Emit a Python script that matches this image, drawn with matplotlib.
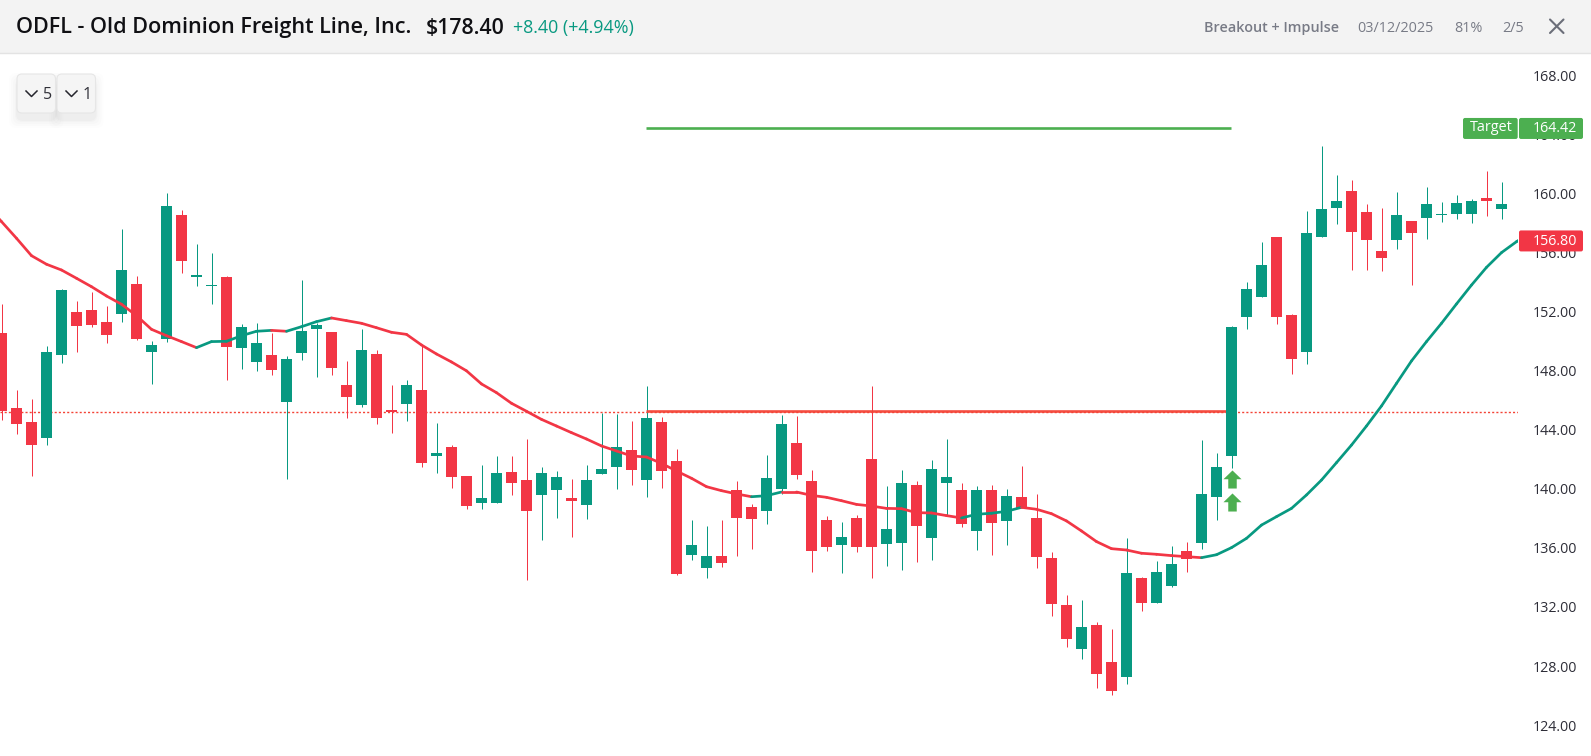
import matplotlib
matplotlib.use("Agg")
import matplotlib.pyplot as plt
import numpy as np
from matplotlib.patches import FancyBboxPatch, Rectangle
from matplotlib.path import Path

W, H = 1591, 756
FONT = ["Open Sans", "Noto Sans", "DejaVu Sans"]
plt.rcParams["font.family"] = FONT

UP = "#089981"
DOWN = "#F23645"
TARGET = "#4CAF50"
LEVEL = "#F44336"
TICK = "#2E2E38"
MUTED = "#787B86"

# prices, one entry per candle
highs = [152.53,146.70,146.09,149.68,153.54,152.73,153.34,152.39,157.61,154.42,150.02,160.05,158.90,156.59,155.98,154.42,151.17,151.24,150.56,149.00,
         154.15,151.24,150.63,148.67,150.83,149.41,147.04,147.38,149.75,144.47,142.97,140.87,141.62,142.23,142.23,143.38,141.48,141.21,140.67,141.62,
         145.17,145.08,144.60,146.97,144.87,142.70,137.89,137.49,137.89,140.54,138.98,142.30,145.01,144.94,141.28,138.16,137.76,138.23,146.97,140.20,
         141.28,140.54,141.96,143.38,140.40,140.20,140.27,139.99,141.55,139.66,135.73,132.81,132.47,130.98,130.51,136.67,134.03,135.12,136.13,136.40,
         143.31,142.43,151.04,154.02,156.73,157.07,151.85,158.83,163.23,161.27,160.93,159.30,159.03,160.11,158.15,160.45,159.44,159.91,159.64,161.54,160.79]
lows = [144.67,143.72,140.87,142.97,148.53,149.28,150.97,149.89,151.31,150.09,147.11,149.95,154.63,153.75,152.53,147.38,148.12,147.99,147.72,140.67,
        148.73,147.58,147.72,144.80,145.55,144.40,143.79,144.60,141.48,141.08,140.06,138.64,138.64,139.05,139.59,133.83,136.54,138.03,136.74,137.96,
        141.01,139.99,140.27,139.45,140.06,134.17,135.18,133.96,134.71,135.45,135.93,137.62,139.66,140.67,134.37,135.79,134.30,135.73,133.96,134.78,
        134.51,135.05,135.18,138.23,137.42,135.86,135.52,136.20,138.68,134.64,131.39,129.29,128.48,126.51,126.04,126.78,131.73,132.27,133.35,134.37,
        135.93,137.89,141.42,150.83,153.00,151.17,147.78,148.46,157.07,157.95,154.83,154.83,154.76,156.25,153.81,156.93,158.08,158.29,158.02,158.49,158.29]
opens = [150.56,145.48,144.53,143.45,149.07,151.99,152.12,151.31,151.85,153.88,149.28,150.16,158.56,154.36,153.75,154.36,149.55,148.60,149.07,145.89,
         149.21,150.83,150.63,147.04,145.69,149.14,145.35,145.75,146.70,142.23,142.84,140.87,139.05,139.05,141.15,140.60,139.59,139.93,139.38,138.91,
         141.01,141.48,142.64,140.60,144.53,141.89,135.52,134.64,135.45,139.93,138.77,138.50,139.99,143.11,140.54,137.89,136.20,138.03,142.03,136.27,
         136.33,140.27,136.67,140.40,139.93,137.15,139.93,137.83,139.45,138.03,135.32,132.13,129.15,130.78,128.27,127.26,133.96,132.27,133.42,135.79,
         136.34,139.45,142.23,151.65,153.00,157.07,151.78,149.27,157.07,159.03,160.18,158.76,156.12,156.86,158.15,158.35,158.56,158.62,158.62,159.71,158.96]
closes = [145.30,144.40,142.97,149.28,153.48,151.04,151.10,150.43,154.83,150.16,149.75,159.17,155.44,154.49,153.81,149.61,150.97,149.89,148.06,148.80,
          150.70,151.10,148.19,146.23,149.41,144.80,145.21,147.04,141.76,142.43,140.81,138.84,139.38,141.08,140.40,138.50,141.08,140.81,139.18,140.60,
          141.35,142.84,141.28,144.80,141.21,134.24,136.20,135.45,134.98,138.03,137.96,140.74,144.40,140.94,135.79,136.06,136.74,136.06,136.06,137.28,
          140.40,137.49,141.35,140.81,137.62,139.93,137.69,139.52,138.71,135.39,132.20,129.83,130.64,127.46,126.31,134.30,132.27,134.37,134.91,135.25,
          139.65,141.48,150.97,153.54,155.17,151.65,148.80,157.34,158.96,159.50,157.40,156.86,155.64,158.56,157.34,159.30,158.62,159.37,159.50,159.50,159.30]
# the average starts one bar before the first candle and runs one bar past the last
moving_avg = [159.25,158.11,156.98,155.80,155.22,154.83,154.27,153.70,153.07,152.51,151.74,150.81,150.38,149.98,149.57,149.98,150.00,150.38,150.68,150.74,150.68,
              150.99,151.33,151.58,151.40,151.22,150.92,150.61,150.47,149.75,149.14,148.60,148.00,147.11,146.52,145.80,145.26,144.71,144.26,143.81,143.38,
              142.91,142.57,142.23,142.16,141.73,141.21,140.72,140.15,139.88,139.66,139.47,139.54,139.79,139.79,139.56,139.43,139.20,138.95,138.84,138.68,
              138.66,138.39,138.37,138.19,138.03,138.28,138.35,138.48,138.75,138.62,138.32,137.83,137.15,136.43,135.95,135.86,135.64,135.57,135.48,135.41,
              135.34,135.54,136.02,136.65,137.55,138.12,138.68,139.59,140.60,141.78,142.97,144.26,145.62,147.15,148.67,149.98,151.22,152.53,153.81,155.01,156.01,156.75,157.40]

y_ticks = [168, 164, 160, 156, 152, 148, 144, 140, 136, 132, 128, 124]
breakout_level = 145.26
support_level = 145.19
target_price = 164.42
last_ma_price = 156.80
level_span = (42.95, 81.95)
signal_bar = 82
signal_prices = [140.65, 139.11]

title_text = "ODFL - Old Dominion Freight Line, Inc."
price_text = "$178.40"
change_text = "+8.40 (+4.94%)"
info_items = [("Breakout + Impulse", 1204, 600), ("03/12/2025", 1357, 400), ("81%", 1454, 400), ("2/5", 1502, 400)]
button_labels = ["5", "1"]

# layout: pixel geometry of the plot frame
TOP, RIGHT = 53, 1518
PX_PER_UNIT = 14.76
PX_160 = 193.7
def px_of(price):
    return PX_160 + (160 - price) * PX_PER_UNIT

fig = plt.figure(figsize=(W / 100, H / 100), dpi=100, facecolor="white")
ax = fig.add_axes([0, 0, RIGHT / W, 1 - TOP / H])
ax.set_xlim(-0.1, (RIGHT - 1.5) / 15)
ax.set_ylim(160 + (PX_160 - H) / PX_PER_UNIT, 160 + (PX_160 - TOP) / PX_PER_UNIT)
for s in ax.spines.values():
    s.set_visible(False)
ax.set_xticks([])
ax.yaxis.tick_right()
ax.set_yticks(y_ticks)
ax.set_yticklabels([f"{t:.2f}" for t in y_ticks])
ax.tick_params(axis="y", length=0, pad=10.6, labelsize=10.3, labelcolor=TICK)

o, c, hi, lo = map(np.array, (opens, closes, highs, lows))
idx = np.arange(len(o))
cols = np.where(c > o, UP, DOWN)
ax.vlines(idx, lo, hi, colors=cols, linewidth=0.72, zorder=2)
ax.bar(idx, np.abs(c - o), bottom=np.minimum(o, c), width=11 / 15, color=cols, linewidth=0, zorder=3)

ax.axhline(support_level, color=LEVEL, lw=1.0, ls=(0, (1.5, 1.5)), zorder=1)
ax.hlines(breakout_level, *level_span, color=LEVEL, lw=1.9, zorder=2.5, alpha=0.95)
ax.hlines(target_price, *level_span, color=TARGET, lw=1.9, zorder=2.5)

ma = np.array(moving_avg)
ma_x = np.arange(len(ma)) - 1
for i in range(len(ma) - 1):
    col = UP if ma[i + 1] > ma[i] else DOWN
    ax.plot(ma_x[i:i + 2], ma[i:i + 2], color=col, lw=1.95, zorder=4, solid_capstyle="round")

arrow = Path([(0, 1), (1, 0.03), (0.47, 0.03), (0.47, -1), (-0.47, -1), (-0.47, 0.03), (-1, 0.03), (0, 1)], closed=True)
ax.plot([signal_bar] * len(signal_prices), signal_prices, ls="none", marker=arrow, ms=13.0,
        mfc=TARGET, mec="none", zorder=5)

# overlay in pixel coordinates: header, buttons and price tags
ov = fig.add_axes([0, 0, 1, 1], facecolor="none")
ov.set_xlim(0, W)
ov.set_ylim(H, 0)
ov.axis("off")
ov.add_patch(Rectangle((0, 0), W, 53, fc="#F3F3F3", ec="none"))
ov.plot([0, W], [53, 53], color="#E3E3E3", lw=1)

ov.text(16, 28, title_text, fontsize=15.6, fontweight=600, color="#101014", va="center", ha="left")
ov.text(426, 28, price_text, fontsize=15.3, fontweight=600, color="#101014", va="center", ha="left")
ov.text(513, 28, change_text, fontsize=12.9, fontweight=500, color=UP, va="center", ha="left")
for label, x, wt in info_items:
    ov.text(x, 28, label, fontsize=10.4, fontweight=wt, color=MUTED, va="center", ha="left")
ov.plot([1550, 1563.5], [19.5, 33], color="#6B6E79", lw=1.5, solid_capstyle="round")
ov.plot([1550, 1563.5], [33, 19.5], color="#6B6E79", lw=1.5, solid_capstyle="round")

bw, bh = 38.5, 39
for bx in (17, 57):
    for grow, alpha in ((16, 0.008), (12, 0.010), (8, 0.012), (4, 0.016), (2, 0.02)):
        ov.add_patch(FancyBboxPatch((bx - grow / 2, 74 + 7 - grow / 2), bw + grow, bh + grow,
                                    boxstyle="round,pad=0,rounding_size=7", fc="black", ec="none", alpha=alpha))
for bx, lab in zip((17, 57), button_labels):
    ov.add_patch(FancyBboxPatch((bx, 74), bw, bh, boxstyle="round,pad=0,rounding_size=5",
                                fc="#F5F5F5", ec="#E6E6E6", lw=0.8))
    ov.plot([bx + 9, bx + 14.5, bx + 20], [91, 96.5, 91], color="#26262E", lw=1.1)
    ov.text(bx + 26, 95, lab, fontsize=11.6, color="#303038", va="center", ha="left")

ty = px_of(target_price)
ov.add_patch(FancyBboxPatch((1463, ty - 10.5), 54.7, 21, boxstyle="round,pad=0,rounding_size=2", fc=TARGET, ec="none"))
ov.add_patch(FancyBboxPatch((1519, ty - 10.5), 64, 21, boxstyle="round,pad=0,rounding_size=2", fc=TARGET, ec="none"))
ov.text(1470, ty - 0.5, "Target", fontsize=10.4, color="white", va="center", ha="left")
ov.text(1532.5, ty + 0.5, f"{target_price:.2f}", fontsize=10.3, color="white", va="center", ha="left")

my = px_of(last_ma_price)
ov.add_patch(FancyBboxPatch((1519, my - 10.5), 64, 21, boxstyle="round,pad=0,rounding_size=2", fc=DOWN, ec="none"))
ov.text(1532.5, my + 0.5, f"{last_ma_price:.2f}", fontsize=10.3, color="white", va="center", ha="left")

fig.savefig("out.png", dpi=100)
